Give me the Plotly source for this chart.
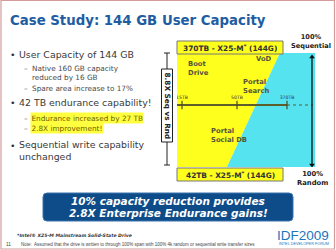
import plotly.graph_objects as go

W, H = 336, 250

# ---------------- data / text ----------------
title_text = "Case Study: 144 GB User Capacity"
bullet_main = ["User Capacity of 144 GB", "42 TB endurance capability!",
               "Sequential write capability<br>unchanged"]
bullet_sub1 = ["Native 160 GB capacity<br>reduced by 16 GB", "Spare area increase to 17%"]
bullet_sub2 = ["Endurance increased by 27 TB", "2.8X improvement!"]
endurance_ticks = ["15TB", "50TB", "370TB"]
seq_label = "370TB - X25-M<sup>*</sup> (144G)"
rnd_label = "42TB - X25-M<sup>*</sup> (144G)"
mix_labels = ["100%<br>Sequential", "100%<br>Random"]
ratio_label = "8.8X Seq vs Rnd"
workloads = ["Boot<br>Drive", "VoD", "Portal<br>Search", "Portal<br>Social DB"]
banner_lines = ["10% capacity reduction provides", "2.8X Enterprise Endurance gains!"]
footnote = "*Intel® X25-M Mainstream Solid-State Drive"
note = ("Note:  Assumed that the drive is written to through 100% span with 100% 4k "
        "random or sequential write transfer sizes")
slide_no = "11"

# boundary between yellow/cyan region (% of chart width) at 0% and 100% sequential
seq_pct = [0, 100]
boundary_pct = [36.2, 74.6]

# ---------------- layout helpers ----------------
def px(x):
    return x / W

def py(y):
    return 1 - y / H

CX0, CX1, CY0, CY1 = 177, 315, 167, 53  # chart rectangle in pixels

def cx(xp):
    return (xp - CX0) / (CX1 - CX0) * 100

def cy(yp):
    return (CY0 - yp) / (CY0 - CY1) * 100

YELLOW = "#FFFF1E"
CYAN = "#55E3EF"
DARK = "#333333"
OLIVE = "#55553A"

fig = go.Figure()

# yellow region
fig.add_trace(go.Scatter(
    x=[0, boundary_pct[1], boundary_pct[0], 0], y=[seq_pct[1], seq_pct[1], seq_pct[0], seq_pct[0]],
    fill="toself", fillcolor=YELLOW, line=dict(width=0), mode="lines", hoverinfo="skip"))
# cyan region
fig.add_trace(go.Scatter(
    x=[boundary_pct[1], 100, 100, boundary_pct[0]], y=[seq_pct[1], seq_pct[1], seq_pct[0], seq_pct[0]],
    fill="toself", fillcolor=CYAN, line=dict(width=0), mode="lines", hoverinfo="skip"))

# endurance axis
axis_y = cy(105)
tick_x = [cx(182), cx(237), cx(287)]
fig.add_trace(go.Scatter(x=[0, tick_x[-1]], y=[axis_y, axis_y], mode="lines",
                         line=dict(color="#5E5E2A", width=2), hoverinfo="skip"))
fig.add_trace(go.Scatter(x=[tick_x[-1], cx(313)], y=[axis_y, axis_y], mode="lines",
                         line=dict(color="#5E5E2A", width=1.2, dash="dot"), hoverinfo="skip"))
fig.add_trace(go.Scatter(x=tick_x, y=[axis_y] * 3, mode="markers+text",
                         marker=dict(symbol="line-ns", size=6, line=dict(color="#4a4a20", width=1.2)),
                         text=endurance_ticks, textposition="top center",
                         textfont=dict(family="DejaVu Sans", size=4.6, color="#333"),
                         hoverinfo="skip"))

# vertical seq/random arrow
ax_x = cx(312)
fig.add_trace(go.Scatter(x=[ax_x, ax_x], y=[cy(166), cy(56)], mode="lines",
                         line=dict(color="#111", width=1.3), hoverinfo="skip"))
fig.add_trace(go.Scatter(x=[ax_x, ax_x], y=[cy(57), cy(165)], mode="markers",
                         marker=dict(symbol=["triangle-up", "triangle-down"], size=5, color="#111"),
                         hoverinfo="skip"))

# workload labels
wl_x = [cx(188), cx(256), cx(243), cx(211)]
wl_y = [cy(69), cy(59), cy(87), cy(136)]
fig.add_trace(go.Scatter(x=wl_x, y=wl_y, mode="text", text=[f"<b>{w}</b>" for w in workloads],
                         textposition="middle right",
                         textfont=dict(family="DejaVu Sans", size=6.8, color=OLIVE),
                         hoverinfo="skip"))

shapes = []
ann = []

def text(x, y, t, size, color=DARK, family="DejaVu Sans", xanchor="left", **kw):
    ann.append(dict(x=px(x), y=py(y), xref="paper", yref="paper", text=t, showarrow=False,
                    xanchor=xanchor, yanchor="middle", align=kw.pop("align", "left"),
                    font=dict(size=size, color=color, family=family), **kw))

# border
shapes.append(dict(type="rect", xref="paper", yref="paper", x0=px(1), x1=px(334.5), y0=py(249), y1=py(0.5),
                   line=dict(color="#D59A9A", width=1.2), layer="above"))

# title
text(8, 21, f"<b>{title_text}</b>", 13.3, color="#1E5DA2")

# bullets
main_y = [55, 103, 150]
for t, y in zip(bullet_main, main_y):
    text(8, 145 if "<br>" in t else y, "•", 9.4)
    text(17, y, t, 9.4, color="#3a3a3a")
sub1_y = [73, 88]
for t, y in zip(bullet_sub1, sub1_y):
    text(22, 68 if "<br>" in t else y, "–", 7.3, color="#555")
    text(30, y, t, 7.3, color="#4a4a4a")
sub2_y = [118, 128]
for t, y in zip(bullet_sub2, sub2_y):
    text(22, y, "–", 7.3, color="#555")
    text(30, y, t, 7.3, color="#6E5F00", bgcolor="#FFFF40", borderpad=0.5)

# left 8.8X bracket
shapes.append(dict(type="line", xref="paper", yref="paper", x0=px(167), x1=px(167), y0=py(53), y1=py(165),
                   line=dict(color="#222", width=1), layer="above"))
for yy in (53, 165):
    shapes.append(dict(type="line", xref="paper", yref="paper", x0=px(164), x1=px(170), y0=py(yy), y1=py(yy),
                       line=dict(color="#222", width=1), layer="above"))
shapes.append(dict(type="rect", xref="paper", yref="paper", x0=px(161.5), x1=px(172.5), y0=py(142), y1=py(69),
                   fillcolor="white", line=dict(color="#222", width=1), layer="above"))
ann.append(dict(x=px(167), y=py(105.5), xref="paper", yref="paper", text=f"<b>{ratio_label}</b>",
                showarrow=False, textangle=90, xanchor="center", yanchor="middle",
                font=dict(size=7.3, color="#222", family="DejaVu Sans")))

# top & bottom endurance boxes
for (y0, y1), lab in zip([(41, 54), (168, 181)], [seq_label, rnd_label]):
    shapes.append(dict(type="rect", xref="paper", yref="paper", x0=px(177), x1=px(283), y0=py(y1), y1=py(y0),
                       fillcolor=YELLOW, line=dict(color="#777", width=1), layer="above"))
    text(230, (y0 + y1) / 2 + 0.5, f"<b>{lab}</b>", 7.4, color="#333", xanchor="center")

# 100% labels
text(311, 41, f"<b>{mix_labels[0]}</b>", 6.6, color="#222", xanchor="center", align="center")
text(312, 178, f"<b>{mix_labels[1]}</b>", 6.8, color="#222", xanchor="center", align="center")

# banner
r = 4
bx0, bx1, by0, by1 = px(43), px(293), py(221), py(193)
rx, ry = r / W, r / H
path = (f"M {bx0+rx},{by1} L {bx1-rx},{by1} Q {bx1},{by1} {bx1},{by1-ry} L {bx1},{by0+ry} "
        f"Q {bx1},{by0} {bx1-rx},{by0} L {bx0+rx},{by0} Q {bx0},{by0} {bx0},{by0+ry} "
        f"L {bx0},{by1-ry} Q {bx0},{by1} {bx0+rx},{by1} Z")
shapes.append(dict(type="path", xref="paper", yref="paper", path=path, fillcolor="#0E4C89",
                   line=dict(color="#3A73AD", width=1), layer="above"))
text(168, 200.8, f"<b><i>{banner_lines[0]}</i></b>", 10.5, color="white", xanchor="center")
text(168, 213.4, f"<b><i>{banner_lines[1]}</i></b>", 10.5, color="white", xanchor="center")

# footer
text(15, 235, f"<b><i>{footnote}</i></b>", 4.6, color="#333")
text(4, 244.5, slide_no, 4.8, color="#444", family="Liberation Sans")
text(19, 244.5, note, 4.5, color="#444", family="Liberation Sans")
text(303, 235, "IDF2009", 13.5, color="#1B75BC", family="Liberation Sans", xanchor="center")
text(304, 244, "INTEL DEVELOPER FORUM", 3.8, color="#1B75BC", family="Liberation Sans", xanchor="center")

fig.update_layout(
    width=W, height=H, margin=dict(l=0, r=0, t=0, b=0),
    paper_bgcolor="white", plot_bgcolor="rgba(0,0,0,0)", showlegend=False,
    xaxis=dict(domain=[px(CX0), px(CX1)], range=[0, 100], visible=False, fixedrange=True),
    yaxis=dict(domain=[py(CY0), py(CY1)], range=[0, 100], visible=False, fixedrange=True),
    shapes=shapes, annotations=ann,
)

fig.write_html("out.html", config={"displayModeBar": False})
